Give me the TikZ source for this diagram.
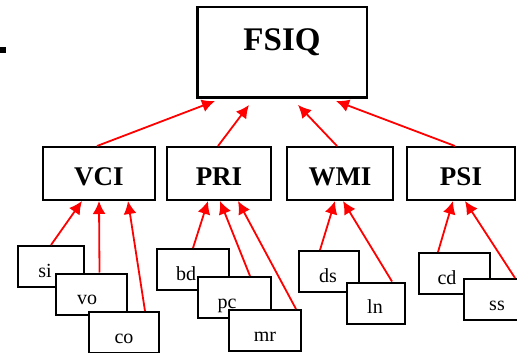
\documentclass[tikz,border=0pt]{standalone}
\usepackage{fontspec}
\setmainfont{Liberation Serif}
\usetikzlibrary{positioning}
\usetikzlibrary{arrows.meta}
\tikzset{>={Latex[length=13pt,width=13pt]}}

\begin{document}
\begin{tikzpicture}[x=1pt,y=-1pt]
      \tikzstyle{gnode} = [draw=black, line width=2.5pt, rectangle, inner sep=0pt, minimum width=169.5pt,
      text height=43pt, text depth=47.5pt, font=\fontsize{33}{36}\selectfont\bfseries]
      \tikzstyle{inode} = [draw=black, line width=2pt, fill=white, rectangle, inner sep=0pt,
      text height=38pt, text depth=15pt, font=\fontsize{27}{30}\selectfont\bfseries]
      \tikzstyle{snode} = [draw=black, line width=2pt, fill=white, rectangle, inner sep=0pt, minimum height=41pt]
      \tikzstyle{stext} = [inner sep=0pt, text height=31pt, text depth=10pt, font=\fontsize{20}{22}\selectfont]
      \tikzstyle{arr} = [->, draw=red, line width=1.8pt]

      \useasboundingbox (0,0) rectangle (517,353);
      \clip (0,0) rectangle (517,353);

      \fill[black] (0,47) rectangle (6,53);

      \node[gnode] (fsiq) at (282,52.5) {FSIQ};

      \node[inode, minimum width=112pt] (vci) at (99,173.5) {VCI};
      \node[inode, minimum width=104pt] (pri) at (219,173.5) {PRI};
      \node[inode, minimum width=106pt] (wmi) at (340,173.5) {WMI};
      \node[inode, minimum width=108pt] (psi) at (461,173.5) {PSI};

      % subtest boxes overlap, later ones on top
      \node[snode, minimum width=66pt, label={[stext, xshift=-6pt]center:si}] (si) at (51,266.5) {};
      \node[snode, minimum width=71pt, label={[stext, xshift=-4.5pt]center:vo}] (vo) at (91.5,294) {};
      \node[snode, minimum width=70pt, label={[stext]center:co}] (co) at (124,332.5) {};

      \node[snode, minimum width=72pt, label={[stext, xshift=-7pt]center:bd}] (bd) at (193,269.5) {};
      \node[snode, minimum width=73pt, label={[stext, xshift=-7.5pt]center:pc}] (pc) at (234.5,297.5) {};
      \node[snode, minimum width=72pt, label={[stext]center:mr}] (mr) at (265,330.5) {};

      \node[snode, minimum width=60pt, label={[stext, xshift=-1pt]center:ds}] (ds) at (329,271.5) {};
      \node[snode, minimum width=58pt, label={[stext, xshift=-1pt]center:ln}] (ln) at (376,303) {};

      \node[snode, minimum width=71pt, label={[stext, xshift=-7.5pt]center:cd}] (cd) at (454.5,273.5) {};
      \node[snode, minimum width=71pt, label={[stext, xshift=-2.5pt]center:ss}] (ss) at (499.5,299.5) {};

      \draw[arr] ([xshift=-2pt]vci.north) to ([xshift=-67pt,yshift=-2pt]fsiq.south);
      \draw[arr] ([xshift=-1pt]pri.north) to ([xshift=-33pt,yshift=-6pt]fsiq.south);
      \draw[arr] ([xshift=-3pt]wmi.north) to ([xshift=16pt,yshift=-6pt]fsiq.south);
      \draw[arr] ([xshift=-6pt]psi.north) to ([xshift=54pt,yshift=-2pt]fsiq.south);

      \draw[arr] (si.north) to ([xshift=-17pt]vci.south);
      \draw[arr] ([xshift=8pt]vo.north) to (vci.south);
      \draw[arr] ([xshift=21pt]co.north) to ([xshift=29pt]vci.south);

      \draw[arr] (bd.north) to ([xshift=-11pt]pri.south);
      \draw[arr] ([xshift=15.5pt]pc.north) to ([xshift=1pt]pri.south);
      \draw[arr] ([xshift=31pt]mr.north) to ([xshift=19pt]pri.south);

      \draw[arr] ([xshift=-9pt]ds.north) to ([xshift=-5pt]wmi.south);
      \draw[arr] ([xshift=16pt]ln.north) to ([xshift=3pt]wmi.south);

      \draw[arr] ([xshift=-16.5pt]cd.north) to ([xshift=-8pt]psi.south);
      \draw[arr] ([xshift=15.5pt]ss.north) to ([xshift=4pt]psi.south);
\end{tikzpicture}
\end{document}
